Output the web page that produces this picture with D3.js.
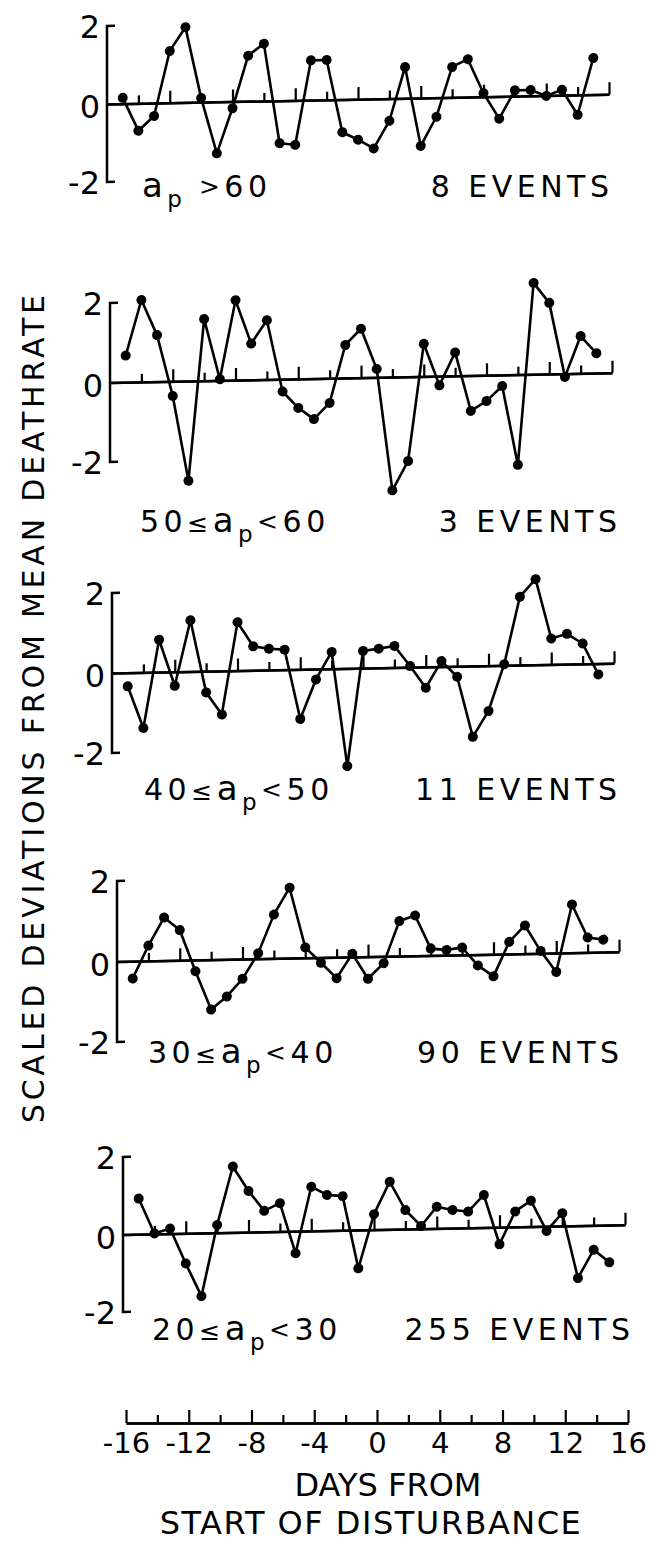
<!DOCTYPE html>
<html>
<head>
<meta charset="utf-8">
<style>
  body { margin: 0; background: #fff; }
  svg text { font-family: "DejaVu Sans", sans-serif; fill: #000; }
  .trace { fill: none; stroke: #000; stroke-width: 2.6px; stroke-linejoin: round; }
  .dot { fill: #000; }
  .frame { stroke: #000; stroke-width: 2.5px; fill: none; }
</style>
</head>
<body>
<svg id="chart" width="656" height="1544"></svg>
<script src="https://cdn.jsdelivr.net/npm/d3@7"></script>
<script>
// days relative to the start of the disturbance
var days = [-15, -14, -13, -12, -11, -10, -9, -8, -7, -6, -5, -4, -3, -2, -1, 0,
            1, 2, 3, 4, 5, 6, 7, 8, 9, 10, 11, 12, 13, 14, 15];

// scaled deviations from mean deathrate, one list per ap class
var apOver60 = [0.15, -0.70, -0.33, 1.33, 1.93, 0.11, -1.32, -0.17, 1.17, 1.47, -1.09, -1.14, 1.02, 1.02, -0.84, -1.04,
                -1.27, -0.57, 0.80, -1.23, -0.49, 0.78, 0.97, 0.09, -0.57, 0.15, 0.15, -0.01, 0.14, -0.51, 0.94];
var ap50to60 = [0.67, 2.06, 1.17, -0.37, -2.51, 1.55, 0.03, 2.01, 0.91, 1.49, -0.31, -0.73, -1.02, -0.62, 0.83, 1.23,
                0.21, -2.85, -2.12, 0.82, -0.23, 0.59, -0.89, -0.65, -0.28, -2.27, 2.30, 1.79, -0.08, 0.94, 0.50];
var ap40to50 = [-0.34, -1.39, 0.81, -0.35, 1.28, -0.53, -1.09, 1.21, 0.60, 0.53, 0.50, -1.24, -0.26, 0.42, -2.44, 0.43,
                0.48, 0.54, 0.03, -0.52, 0.14, -0.26, -1.77, -1.13, 0.03, 1.71, 2.14, 0.65, 0.76, 0.51, -0.27];
var ap30to40 = [-0.43, 0.38, 1.07, 0.75, -0.28, -1.24, -0.92, -0.49, 0.14, 1.09, 1.75, 0.26, -0.13, -0.52, 0.08, -0.55,
                -0.17, 0.87, 1.00, 0.17, 0.13, 0.18, -0.27, -0.55, 0.30, 0.70, 0.06, -0.47, 1.20, 0.37, 0.31];
var ap20to30 = [0.92, 0.01, 0.13, -0.78, -1.63, 0.20, 1.70, 1.06, 0.54, 0.73, -0.57, 1.14, 0.92, 0.88, -0.99, 0.40,
                1.23, 0.49, 0.07, 0.56, 0.47, 0.42, 0.84, -0.44, 0.40, 0.67, -0.12, 0.33, -1.35, -0.63, -0.96];

// panel labels: [low][sign] a_p [sign][high]
var lowBound = ["", "50", "40", "30", "20"];
var lowSign = ["", "≤", "≤", "≤", "≤"];
var highSign = [" >", "<", "<", "<", "<"];
var highBound = ["60", "60", "50", "40", "30"];
var eventLabels = ["8 EVENTS", "3 EVENTS", "11 EVENTS", "90 EVENTS", "255 EVENTS"];

var yTicks = [2, 0, -2];
var majorDays = [-16, -12, -8, -4, 0, 4, 8, 12, 16];
var minorDays = [-14, -10, -6, -2, 2, 6, 10, 14];

var series = [apOver60, ap50to60, ap40to50, ap30to40, ap20to30];

// panel placement (hand-drawn original, every panel sits a little further right)
var panelLeft = [107, 110, 112, 117, 123];
var panelTop = [26, 303, 593, 881, 1157];
var panelBottom = [182, 462, 753, 1042, 1312];
var labelY = [197, 532, 800, 1063, 1340];
var labelX = [142, 140, 144, 148, 152];
var eventsX = [609, 617, 617, 619, 630];
var panelWidth = 502;
var tilt = -Math.atan(9.7 / panelWidth) * 180 / Math.PI;
var spacing = 4.5;

var svg = d3.select('#chart');

function styleAxis(g) {
  g.selectAll('.domain').attr('stroke', '#000').attr('stroke-width', 2.5);
  g.selectAll('.tick line').attr('stroke', '#000').attr('stroke-width', 2.2);
}

series.forEach(function(values, i) {
  var x = d3.scaleLinear().domain([-16, 16]).range([0, panelWidth]);
  var y = d3.scaleLinear().domain([-2, 2]).range([panelBottom[i], panelTop[i]]);

  var g = svg.append('g')
    .attr('transform', 'translate(' + panelLeft[i] + ',0) skewY(' + tilt + ')');

  // left bracket axis
  g.append('path').attr('class', 'frame')
    .attr('d', 'M8,' + y(2) + 'H0V' + y(-2) + 'H8');

  // zero line with upward ticks
  var zero = g.append('g').attr('transform', 'translate(0,' + y(0) + ')');
  zero.append('g')
    .call(d3.axisBottom(x).tickValues(majorDays.slice(1)).tickSizeInner(-12).tickSizeOuter(0).tickFormat(''))
    .call(styleAxis);
  zero.append('g')
    .call(d3.axisBottom(x).tickValues(minorDays).tickSizeInner(-8).tickSizeOuter(0).tickFormat(''))
    .call(styleAxis);

  var pts = days.map(function(d, k) { return [d, values[k]]; });
  var line = d3.line().x(function(d) { return x(d[0]); }).y(function(d) { return y(d[1]); });
  g.append('path').datum(pts).attr('class', 'trace').attr('d', line);
  g.selectAll('.dot').data(pts).enter().append('circle')
    .attr('class', 'dot')
    .attr('cx', function(d) { return x(d[0]); })
    .attr('cy', function(d) { return y(d[1]); })
    .attr('r', 5);

  // y tick labels
  svg.selectAll(null).data(yTicks).enter().append('text')
    .attr('x', panelLeft[i] - 7)
    .attr('y', function(t) { return y(t) + (t === 0 ? 14 : 12); })
    .attr('text-anchor', 'end')
    .attr('font-size', 32)
    .text(function(t) { return String(t); });

  // ap class label
  var lab = svg.append('text')
    .attr('x', labelX[i]).attr('y', labelY[i])
    .attr('font-size', 30).attr('letter-spacing', spacing);
  lab.append('tspan').text(lowBound[i]);
  lab.append('tspan').attr('font-size', 25).text(lowSign[i]);
  lab.append('tspan').attr('font-size', 34).text('a');
  lab.append('tspan').attr('font-size', 23).attr('dy', 10).text('p');
  lab.append('tspan').attr('font-size', 25).attr('dy', -12).text(highSign[i]);
  lab.append('tspan').attr('dy', 2).text(highBound[i]);

  svg.append('text')
    .attr('x', eventsX[i] + spacing).attr('y', labelY[i])
    .attr('text-anchor', 'end')
    .attr('font-size', 30).attr('letter-spacing', spacing)
    .text(eventLabels[i]);
});

// common time axis at the bottom
var xb = d3.scaleLinear().domain([-16, 16]).range([126, 628]);
var bottom = svg.append('g').attr('transform', 'translate(0,1423)');
bottom.append('g')
  .call(d3.axisBottom(xb).tickValues(majorDays).tickSizeInner(-13).tickSizeOuter(0).tickPadding(9)
    .tickFormat(function(d) { return String(d); }))
  .call(styleAxis)
  .call(function(g) {
    g.selectAll('text').attr('font-size', 29).attr('font-family', '"DejaVu Sans", sans-serif').attr('fill', '#000');
  });
bottom.append('g')
  .call(d3.axisBottom(xb).tickValues(minorDays).tickSizeInner(-8).tickSizeOuter(0).tickFormat(''))
  .call(styleAxis);

svg.append('text').attr('x', 388).attr('y', 1496)
  .attr('text-anchor', 'middle').attr('font-size', 32)
  .text('DAYS FROM');
svg.append('text').attr('x', 371).attr('y', 1534)
  .attr('text-anchor', 'middle').attr('font-size', 32).attr('letter-spacing', 1.5)
  .text('START OF DISTURBANCE');

svg.append('text')
  .attr('transform', 'translate(44,709) rotate(-90)')
  .attr('text-anchor', 'middle').attr('font-size', 30)
  .attr('textLength', 828).attr('lengthAdjust', 'spacing')
  .text('SCALED DEVIATIONS FROM MEAN DEATHRATE');
</script>
</body>
</html>
